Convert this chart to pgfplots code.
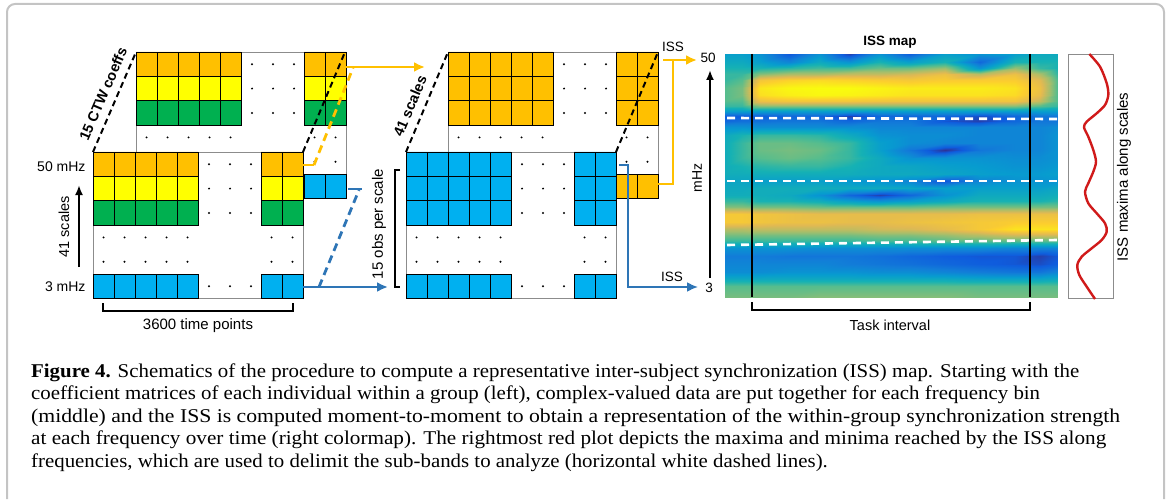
\documentclass[border=0pt]{standalone}
\usepackage{pgfplots}
\pgfplotsset{compat=1.18}
\usepackage{graphicx}
\usepackage{fontspec}
\setmainfont{Liberation Serif}[FakeStretch=1.07]
\newfontfamily\arial{Liberation Sans}
\usetikzlibrary{arrows.meta}

\definecolor{cOrange}{HTML}{FFC000}
\definecolor{cYellow}{HTML}{FFFF00}
\definecolor{cGreen}{HTML}{00B050}
\definecolor{cBlue}{HTML}{00B0F0}
\definecolor{lineBlue}{HTML}{2E75B6}
\definecolor{lineOrange}{HTML}{FFC000}
\definecolor{frameGray}{HTML}{C4C4C4}
\definecolor{matGray}{HTML}{8C8C8C}
\definecolor{issRed}{HTML}{D01A1A}

% one row of five / two coefficient cells (x left, y top, colour)
\newcommand{\cellsfive}[3]{\filldraw[fill=#3,draw=black,line width=0.7pt]
  ({#1},{#2}) rectangle ({#1+21},{#2+24.4})
  ({#1+21},{#2}) rectangle ({#1+42},{#2+24.4})
  ({#1+42},{#2}) rectangle ({#1+63},{#2+24.4})
  ({#1+63},{#2}) rectangle ({#1+84},{#2+24.4})
  ({#1+84},{#2}) rectangle ({#1+105},{#2+24.4});}
\newcommand{\cellstwo}[3]{\filldraw[fill=#3,draw=black,line width=0.7pt]
  ({#1},{#2}) rectangle ({#1+21},{#2+24.4})
  ({#1+21},{#2}) rectangle ({#1+42},{#2+24.4});}
% ellipsis dots
\newcommand{\dotsthree}[2]{\fill ({#1},{#2}) circle[radius=1.1pt]
  ({#1+21},{#2}) circle[radius=1.1pt] ({#1+42},{#2}) circle[radius=1.1pt];}
\newcommand{\dotstwo}[2]{\fill ({#1},{#2}) circle[radius=1.1pt]
  ({#1+21},{#2}) circle[radius=1.1pt];}
\newcommand{\dotsfive}[2]{\fill ({#1},{#2}) circle[radius=1.1pt]
  ({#1+21},{#2}) circle[radius=1.1pt] ({#1+42},{#2}) circle[radius=1.1pt]
  ({#1+63},{#2}) circle[radius=1.1pt] ({#1+84},{#2}) circle[radius=1.1pt];}
% a coefficient matrix: x0, y0, colours of rows 1-3, colour of last row
\newcommand{\coefmat}[6]{%
  \filldraw[fill=white,draw=matGray,line width=0.9pt] ({#1},{#2}) rectangle ({#1+210},{#2+146.4});
  \cellsfive{#1}{#2}{#3}\cellstwo{#1+168}{#2}{#3}
  \cellsfive{#1}{#2+24.4}{#4}\cellstwo{#1+168}{#2+24.4}{#4}
  \cellsfive{#1}{#2+48.8}{#5}\cellstwo{#1+168}{#2+48.8}{#5}
  \cellsfive{#1}{#2+122}{#6}\cellstwo{#1+168}{#2+122}{#6}
  \dotsthree{#1+116}{#2+12.2}\dotsthree{#1+116}{#2+36.6}
  \dotsthree{#1+116}{#2+61}\dotsthree{#1+116}{#2+134.2}
  \dotsfive{#1+10.5}{#2+85.4}\dotstwo{#1+178.5}{#2+85.4}
  \dotsfive{#1+10.5}{#2+109.8}\dotstwo{#1+178.5}{#2+109.8}}

\begin{document}
\begin{tikzpicture}
\begin{axis}[
  scale only axis, width=1167pt, height=499pt,
  xmin=0, xmax=1167, ymin=0, ymax=499, y dir=reverse,
  hide axis, clip=false,
  point meta min=0, point meta max=1,
  colormap={parula}{rgb255=(53,42,135) rgb255=(15,92,221) rgb255=(18,125,216)
    rgb255=(7,156,207) rgb255=(21,177,180) rgb255=(89,189,140) rgb255=(165,190,107)
    rgb255=(225,185,82) rgb255=(252,206,46) rgb255=(249,251,14)},
]
\path (0,0) rectangle (1167,499);

% ISS map (time x frequency)
\addplot[surf, shader=interp, mesh/rows=36, mesh/cols=13, point meta=explicit] coordinates {
(725,54)[0.35] (742,54)[0.35] (760,54)[0.30] (790,54)[0.10] (820,54)[0.30] (850,54)[0.05] (880,54)[0.30] (910,54)[0.12] (945,54)[0.35] (980,54)[0.30] (1015,54)[0.35] (1040,54)[0.40] (1057,54)[0.40]
(725,62)[0.40] (742,62)[0.40] (760,62)[0.35] (790,62)[0.25] (820,62)[0.40] (850,62)[0.30] (880,62)[0.45] (910,62)[0.35] (945,62)[0.45] (980,62)[0.15] (1015,62)[0.45] (1040,62)[0.45] (1057,62)[0.45]
(725,68)[0.45] (742,68)[0.45] (760,68)[0.45] (790,68)[0.48] (820,68)[0.52] (850,68)[0.52] (880,68)[0.58] (910,68)[0.58] (945,68)[0.65] (980,68)[0.30] (1015,68)[0.65] (1040,68)[0.50] (1057,68)[0.45]
(725,74)[0.50] (742,74)[0.50] (760,74)[0.62] (790,74)[0.68] (820,74)[0.68] (850,74)[0.72] (880,74)[0.72] (910,74)[0.75] (945,74)[0.82] (980,74)[0.70] (1015,74)[0.82] (1040,74)[0.68] (1057,74)[0.50]
(725,80)[0.50] (742,80)[0.55] (760,80)[0.85] (790,80)[0.90] (820,80)[0.92] (850,80)[0.90] (880,80)[0.88] (910,80)[0.86] (945,80)[0.88] (980,80)[0.88] (1015,80)[0.88] (1040,80)[0.78] (1057,80)[0.55]
(725,88)[0.55] (742,88)[0.60] (760,88)[0.95] (790,88)[0.99] (820,88)[1.00] (850,88)[1.00] (880,88)[0.98] (910,88)[0.96] (945,88)[0.96] (980,88)[0.96] (1015,88)[0.94] (1040,88)[0.82] (1057,88)[0.55]
(725,95)[0.55] (742,95)[0.60] (760,95)[0.93] (790,95)[0.97] (820,95)[0.99] (850,95)[0.98] (880,95)[0.96] (910,95)[0.94] (945,95)[0.94] (980,95)[0.94] (1015,95)[0.92] (1040,95)[0.80] (1057,95)[0.55]
(725,101)[0.55] (742,101)[0.55] (760,101)[0.82] (790,101)[0.85] (820,101)[0.85] (850,101)[0.85] (880,101)[0.84] (910,101)[0.84] (945,101)[0.84] (980,101)[0.84] (1015,101)[0.84] (1040,101)[0.72] (1057,101)[0.55]
(725,106)[0.50] (742,106)[0.50] (760,106)[0.62] (790,106)[0.62] (820,106)[0.62] (850,106)[0.62] (880,106)[0.62] (910,106)[0.62] (945,106)[0.62] (980,106)[0.62] (1015,106)[0.62] (1040,106)[0.55] (1057,106)[0.50]
(725,111)[0.35] (742,111)[0.35] (760,111)[0.35] (790,111)[0.35] (820,111)[0.35] (850,111)[0.35] (880,111)[0.35] (910,111)[0.35] (945,111)[0.35] (980,111)[0.35] (1015,111)[0.35] (1040,111)[0.35] (1057,111)[0.35]
(725,116)[0.12] (742,116)[0.12] (760,116)[0.12] (790,116)[0.15] (820,116)[0.15] (850,116)[0.05] (880,116)[0.15] (910,116)[0.15] (945,116)[0.15] (980,116)[0.08] (1015,116)[0.15] (1040,116)[0.20] (1057,116)[0.20]
(725,121)[0.15] (742,121)[0.18] (760,121)[0.18] (790,121)[0.20] (820,121)[0.20] (850,121)[0.15] (880,121)[0.20] (910,121)[0.20] (945,121)[0.10] (980,121)[0.05] (1015,121)[0.15] (1040,121)[0.20] (1057,121)[0.20]
(725,127)[0.30] (742,127)[0.30] (760,127)[0.28] (790,127)[0.28] (820,127)[0.28] (850,127)[0.28] (880,127)[0.25] (910,127)[0.25] (945,127)[0.25] (980,127)[0.25] (1015,127)[0.25] (1040,127)[0.25] (1057,127)[0.28]
(725,135)[0.40] (742,135)[0.45] (760,135)[0.50] (790,135)[0.50] (820,135)[0.48] (850,135)[0.40] (880,135)[0.30] (910,135)[0.28] (945,135)[0.28] (980,135)[0.25] (1015,135)[0.25] (1040,135)[0.25] (1057,135)[0.30]
(725,143)[0.42] (742,143)[0.50] (760,143)[0.58] (790,143)[0.58] (820,143)[0.55] (850,143)[0.50] (880,143)[0.35] (910,143)[0.28] (945,143)[0.25] (980,143)[0.25] (1015,143)[0.25] (1040,143)[0.25] (1057,143)[0.30]
(725,150)[0.42] (742,150)[0.50] (760,150)[0.58] (790,150)[0.60] (820,150)[0.58] (850,150)[0.50] (880,150)[0.35] (910,150)[0.20] (945,150)[0.02] (980,150)[0.20] (1015,150)[0.25] (1040,150)[0.25] (1057,150)[0.30]
(725,158)[0.42] (742,158)[0.50] (760,158)[0.55] (790,158)[0.58] (820,158)[0.55] (850,158)[0.50] (880,158)[0.40] (910,158)[0.30] (945,158)[0.30] (980,158)[0.30] (1015,158)[0.28] (1040,158)[0.28] (1057,158)[0.30]
(725,166)[0.42] (742,166)[0.45] (760,166)[0.48] (790,166)[0.50] (820,166)[0.50] (850,166)[0.45] (880,166)[0.40] (910,166)[0.38] (945,166)[0.35] (980,166)[0.33] (1015,166)[0.30] (1040,166)[0.30] (1057,166)[0.32]
(725,174)[0.42] (742,174)[0.42] (760,174)[0.42] (790,174)[0.42] (820,174)[0.42] (850,174)[0.42] (880,174)[0.40] (910,174)[0.40] (945,174)[0.38] (980,174)[0.35] (1015,174)[0.33] (1040,174)[0.33] (1057,174)[0.35]
(725,181)[0.38] (742,181)[0.38] (760,181)[0.35] (790,181)[0.35] (820,181)[0.35] (850,181)[0.32] (880,181)[0.30] (910,181)[0.25] (945,181)[0.10] (980,181)[0.25] (1015,181)[0.30] (1040,181)[0.30] (1057,181)[0.30]
(725,188)[0.40] (742,188)[0.40] (760,188)[0.42] (790,188)[0.42] (820,188)[0.42] (850,188)[0.40] (880,188)[0.40] (910,188)[0.38] (945,188)[0.35] (980,188)[0.35] (1015,188)[0.35] (1040,188)[0.35] (1057,188)[0.38]
(725,195)[0.42] (742,195)[0.42] (760,195)[0.42] (790,195)[0.40] (820,195)[0.30] (850,195)[0.15] (880,195)[0.05] (910,195)[0.15] (945,195)[0.30] (980,195)[0.40] (1015,195)[0.40] (1040,195)[0.40] (1057,195)[0.42]
(725,201)[0.50] (742,201)[0.50] (760,201)[0.45] (790,201)[0.45] (820,201)[0.42] (850,201)[0.35] (880,201)[0.30] (910,201)[0.35] (945,201)[0.40] (980,201)[0.45] (1015,201)[0.45] (1040,201)[0.45] (1057,201)[0.48]
(725,207)[0.62] (742,207)[0.62] (760,207)[0.60] (790,207)[0.60] (820,207)[0.58] (850,207)[0.58] (880,207)[0.58] (910,207)[0.58] (945,207)[0.60] (980,207)[0.60] (1015,207)[0.60] (1040,207)[0.60] (1057,207)[0.60]
(725,214)[0.86] (742,214)[0.86] (760,214)[0.84] (790,214)[0.82] (820,214)[0.80] (850,214)[0.80] (880,214)[0.80] (910,214)[0.80] (945,214)[0.80] (980,214)[0.82] (1015,214)[0.82] (1040,214)[0.82] (1057,214)[0.82]
(725,222)[0.86] (742,222)[0.86] (760,222)[0.84] (790,222)[0.82] (820,222)[0.82] (850,222)[0.80] (880,222)[0.80] (910,222)[0.82] (945,222)[0.84] (980,222)[0.86] (1015,222)[0.88] (1040,222)[0.88] (1057,222)[0.88]
(725,229)[0.70] (742,229)[0.70] (760,229)[0.72] (790,229)[0.72] (820,229)[0.72] (850,229)[0.72] (880,229)[0.75] (910,229)[0.76] (945,229)[0.80] (980,229)[0.86] (1015,229)[0.94] (1040,229)[0.94] (1057,229)[0.94]
(725,235)[0.60] (742,235)[0.60] (760,235)[0.60] (790,235)[0.60] (820,235)[0.60] (850,235)[0.60] (880,235)[0.62] (910,235)[0.62] (945,235)[0.65] (980,235)[0.70] (1015,235)[0.75] (1040,235)[0.75] (1057,235)[0.75]
(725,241)[0.50] (742,241)[0.50] (760,241)[0.50] (790,241)[0.50] (820,241)[0.50] (850,241)[0.50] (880,241)[0.52] (910,241)[0.52] (945,241)[0.55] (980,241)[0.55] (1015,241)[0.55] (1040,241)[0.55] (1057,241)[0.55]
(725,248)[0.30] (742,248)[0.30] (760,248)[0.30] (790,248)[0.30] (820,248)[0.28] (850,248)[0.28] (880,248)[0.28] (910,248)[0.28] (945,248)[0.28] (980,248)[0.28] (1015,248)[0.25] (1040,248)[0.25] (1057,248)[0.25]
(725,256)[0.22] (742,256)[0.22] (760,256)[0.22] (790,256)[0.20] (820,256)[0.20] (850,256)[0.20] (880,256)[0.18] (910,256)[0.15] (945,256)[0.12] (980,256)[0.10] (1015,256)[0.10] (1040,256)[0.05] (1057,256)[0.10]
(725,264)[0.25] (742,264)[0.25] (760,264)[0.25] (790,264)[0.25] (820,264)[0.25] (850,264)[0.22] (880,264)[0.20] (910,264)[0.18] (945,264)[0.15] (980,264)[0.12] (1015,264)[0.10] (1040,264)[0.08] (1057,264)[0.12]
(725,272)[0.28] (742,272)[0.28] (760,272)[0.28] (790,272)[0.30] (820,272)[0.30] (850,272)[0.30] (880,272)[0.28] (910,272)[0.28] (945,272)[0.25] (980,272)[0.22] (1015,272)[0.20] (1040,272)[0.20] (1057,272)[0.25]
(725,279)[0.40] (742,279)[0.40] (760,279)[0.40] (790,279)[0.40] (820,279)[0.40] (850,279)[0.40] (880,279)[0.40] (910,279)[0.40] (945,279)[0.40] (980,279)[0.38] (1015,279)[0.38] (1040,279)[0.38] (1057,279)[0.40]
(725,286)[0.55] (742,286)[0.55] (760,286)[0.55] (790,286)[0.55] (820,286)[0.55] (850,286)[0.55] (880,286)[0.55] (910,286)[0.55] (945,286)[0.55] (980,286)[0.55] (1015,286)[0.55] (1040,286)[0.55] (1057,286)[0.55]
(725,297)[0.60] (742,297)[0.60] (760,297)[0.60] (790,297)[0.60] (820,297)[0.62] (850,297)[0.62] (880,297)[0.62] (910,297)[0.62] (945,297)[0.62] (980,297)[0.60] (1015,297)[0.60] (1040,297)[0.60] (1057,297)[0.60]
};
% sub-band limits and task interval
\addplot[white, line width=2.6pt, dash pattern=on 8pt off 6pt] coordinates {(727,118) (1057,119)};
\addplot[white, line width=2.6pt, dash pattern=on 8pt off 6pt] coordinates {(727,181) (1057,181)};
\addplot[white, line width=2.6pt, dash pattern=on 8pt off 6pt] coordinates {(727,245) (1057,240)};
\addplot[black, line width=1.4pt] coordinates {(752,54) (752,297)};
\addplot[black, line width=1.4pt] coordinates {(1030,54) (1030,297)};

% ISS maxima along scales
\draw[matGray, line width=0.9pt] (1068,54) rectangle (1113,298);
\addplot[issRed, line width=2.4pt, smooth, tension=0.5] coordinates {
(1089.3,54) (1100,66.7) (1106.7,83.3) (1108.3,95) (1105,105) (1096.7,113.3)
(1086.7,121.7) (1084,127.3) (1088.3,136.7) (1093.3,150) (1096,161.7) (1093.3,171.7)
(1088.3,183.3) (1085,191.7) (1088.3,203.3) (1096.7,213.3) (1105,223.3) (1106.7,231.7)
(1101.7,240) (1091.7,248.3) (1081.7,256.7) (1077.3,265) (1079.3,275) (1086.7,286.7) (1095,299)};

% coefficient matrices of the individuals
\coefmat{136}{52}{cOrange}{cYellow}{cGreen}{cBlue}
\coefmat{93}{152}{cOrange}{cYellow}{cGreen}{cBlue}
% data gathered per frequency bin
\coefmat{448}{52}{cOrange}{cOrange}{cOrange}{cOrange}
\coefmat{406}{152}{cBlue}{cBlue}{cBlue}{cBlue}

% depth edges
\draw[black, line width=2pt, dash pattern=on 6pt off 4pt] (93,152) -- (136,52);
\draw[black, line width=2pt, dash pattern=on 6pt off 4pt] (303,152) -- (345,52);
\draw[black, line width=2pt, dash pattern=on 6pt off 4pt] (406,152) -- (448,52);
\draw[black, line width=2pt, dash pattern=on 6pt off 4pt] (616,152) -- (658,52);

% links between the panels
\draw[lineOrange, line width=2.4pt] (303,165) -- (314,165);
\draw[lineOrange, line width=2.8pt, dash pattern=on 8pt off 5pt] (314,165) -- (353,68);
\draw[lineOrange, line width=2.4pt, -{Latex[length=11pt,width=10pt]}] (345,67) -- (425,67);
\draw[lineBlue, line width=2.4pt, -{Latex[length=11pt,width=10pt]}] (303,287) -- (388,287);
\draw[lineBlue, line width=2.8pt, dash pattern=on 8pt off 5pt] (319,287) -- (359,190);
\draw[lineBlue, line width=2.4pt] (348,189) -- (362,189);
\draw[lineOrange, line width=2.4pt] (657,184) -- (673,184) -- (673,61);
\draw[lineOrange, line width=2.4pt, -{Latex[length=11pt,width=10pt]}] (663,60) -- (697,60);
\draw[lineBlue, line width=2pt, -{Latex[length=11pt,width=10pt]}] (619,165) -- (628,165) -- (628,287) -- (698,287);

% axes annotations
\draw[black, line width=2pt, -{Latex[length=10pt,width=8pt]}] (79,267) -- (79,185);
\draw[black, line width=2pt, -{Latex[length=10pt,width=8pt]}] (710,278) -- (710,70);
\draw[black, line width=2pt] (103,303) -- (103,311) -- (293,311) -- (293,303);
\draw[black, line width=2pt] (400,170) -- (395,170) -- (395,287) -- (400,287);
\draw[black, line width=2pt] (752,302) -- (752,310) -- (1030,310) -- (1030,302);

\node[font=\arial\fontsize{14}{16}\selectfont, anchor=east] at (89,167) {50 mHz};
\node[font=\arial\fontsize{14}{16}\selectfont, anchor=east] at (89,287) {3 mHz};
\node[font=\arial\fontsize{14.5}{16}\selectfont, rotate=90] at (64,227) {41 scales};
\node[font=\arial\fontsize{15}{17}\selectfont] at (198,326) {3600 time points};
\node[font=\arial\bfseries\fontsize{14.5}{17}\selectfont, rotate=66.7, inner sep=1pt] at (103,94) {15 CTW coeffs};
\node[font=\arial\bfseries\fontsize{14.5}{17}\selectfont, rotate=67, inner sep=1pt] at (410,106) {41 scales};
\node[font=\arial\fontsize{15}{17}\selectfont, rotate=90] at (379,224) {15 obs per scale};
\node[font=\arial\fontsize{13.5}{15}\selectfont] at (673,47) {ISS};
\node[font=\arial\fontsize{13.5}{15}\selectfont] at (672,277) {ISS};
\node[font=\arial\fontsize{13.5}{15}\selectfont] at (708,58) {50};
\node[font=\arial\fontsize{13.5}{15}\selectfont] at (709,288) {3};
\node[font=\arial\fontsize{14}{16}\selectfont, rotate=90] at (697,178) {mHz};
\node[font=\arial\bfseries\fontsize{13.5}{15}\selectfont] at (890,42) {ISS map};
\node[font=\arial\fontsize{14.5}{16}\selectfont] at (890,325) {Task interval};
\node[font=\arial\fontsize{15}{17}\selectfont, rotate=90] at (1124,177) {ISS maxima along scales};

% caption
\node[font=\fontsize{19.5}{22}\selectfont, anchor=base west, inner sep=0pt] at (31,377) {\textbf{Figure 4.} Schematics of the procedure to compute a representative inter-subject synchronization (ISS) map. Starting with the};
\node[font=\fontsize{19.5}{22}\selectfont, anchor=base west, inner sep=0pt] at (31,399.5) {coefficient matrices of each individual within a group (left), complex-valued data are put together for each frequency bin};
\node[font=\fontsize{19.5}{22}\selectfont, anchor=base west, inner sep=0pt] at (31,422) {\scalebox{1.04}[1]{(middle) and the ISS is computed moment-to-moment to obtain a representation of the within-group synchronization strength}};
\node[font=\fontsize{19.5}{22}\selectfont, anchor=base west, inner sep=0pt] at (31,444.5) {\scalebox{1.015}[1]{at each frequency over time (right colormap). The rightmost red plot depicts the maxima and minima reached by the ISS along}};
\node[font=\fontsize{19.5}{22}\selectfont, anchor=base west, inner sep=0pt] at (31,467) {frequencies, which are used to delimit the sub-bands to analyze (horizontal white dashed lines).};

% outer frame
\draw[frameGray, line width=2pt, rounded corners=8pt] (7,499) -- (7,4) -- (1164,4) -- (1164,499);
\end{axis}
\end{tikzpicture}
\end{document}
